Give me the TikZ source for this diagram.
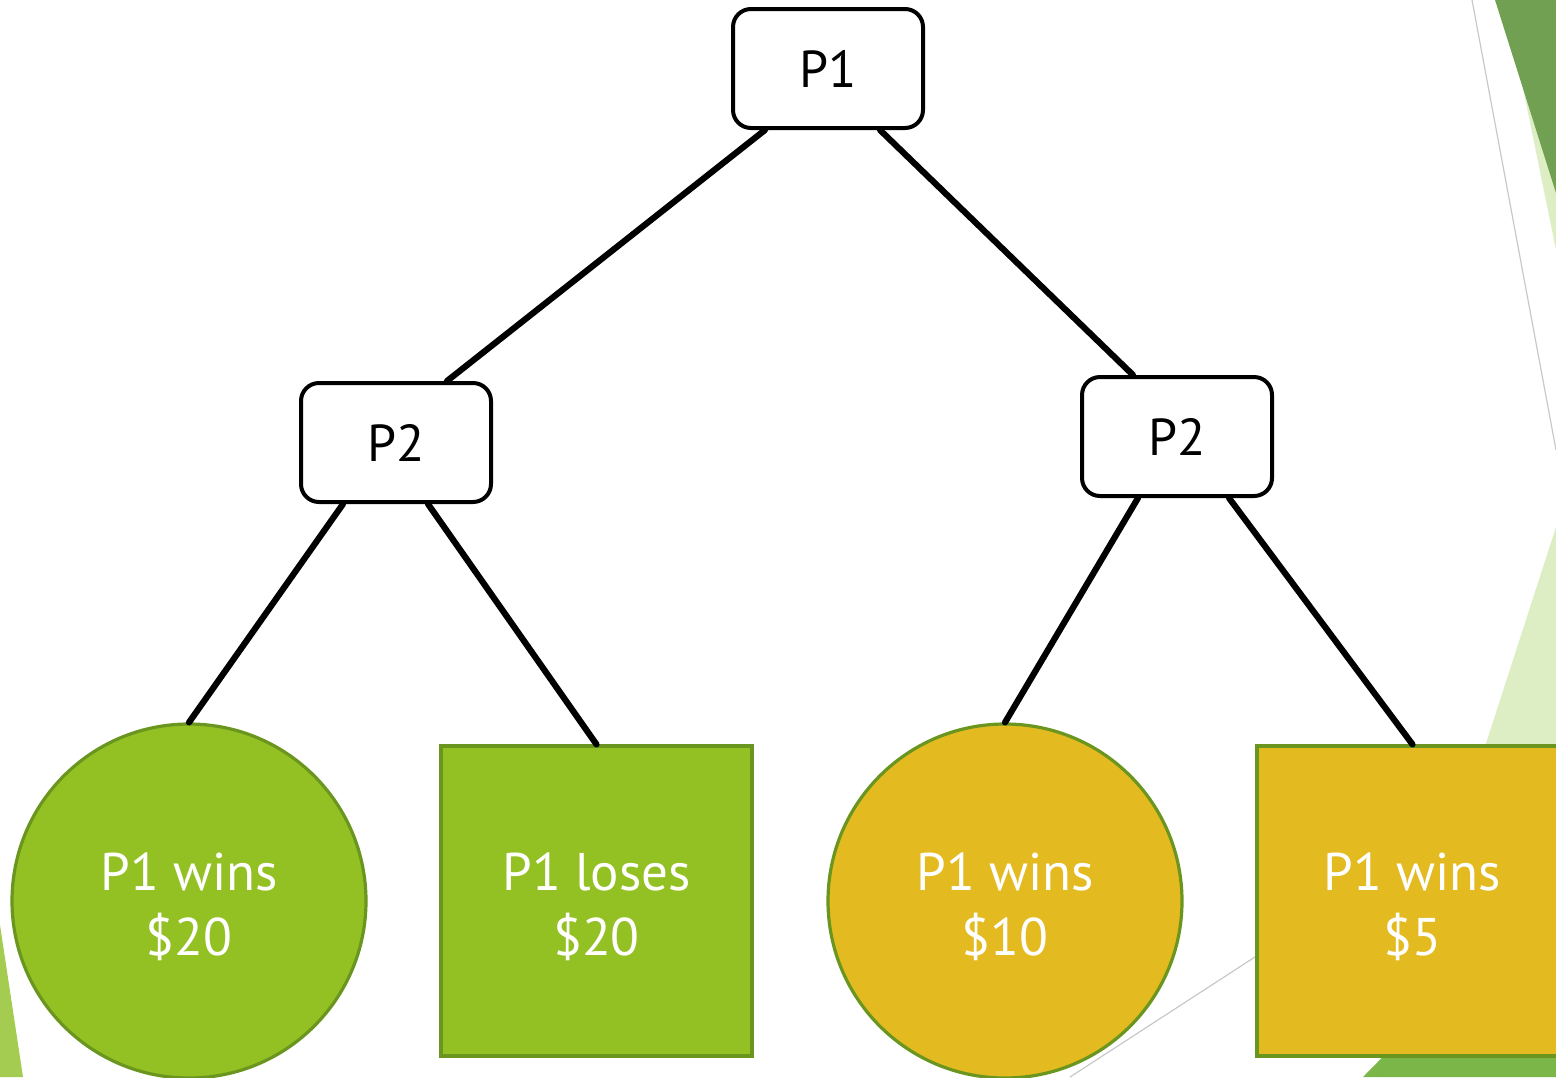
\documentclass[tikz,border=0pt]{standalone}
\usepackage{fontspec}
\setmainfont{PT Sans}
\usetikzlibrary{calc}
\definecolor{leafgreen}{HTML}{93C123}
\definecolor{edgegreen}{HTML}{6A961F}
\definecolor{gold}{HTML}{E3BA1F}
\definecolor{darkfacet}{HTML}{71A052}
\definecolor{lightfacet}{HTML}{DDEDC4}
\definecolor{midfacet}{HTML}{7AB648}
\definecolor{limefacet}{HTML}{A4CC50}
\definecolor{thingray}{HTML}{C8C8C8}
\newcommand{\lowerstrut}{\rule{0pt}{25pt}}
\tikzset{
  decision/.style={draw=black, line width=2pt, rounded corners=9pt, fill=white,
    minimum width=95pt, minimum height=59.5pt, font=\fontsize{26}{32}\selectfont},
  outcome/.style={draw=edgegreen, line width=1.6pt, text=white, align=center,
    font=\fontsize{26.5}{32.5}\selectfont},
  roundout/.style={outcome, circle, minimum size=177pt, inner sep=0pt},
  squareout/.style={outcome, rectangle, minimum width=155.5pt, minimum height=155pt, inner sep=0pt},
  branch/.style={line width=3.1pt, line cap=round, black},
  facetline/.style={draw=thingray, line width=0.6pt}
}
\begin{document}
\begin{tikzpicture}[x=0.5pt,y=-0.5pt]
\useasboundingbox (0,0) rectangle (1556,1077);
\clip (0,0) rectangle (1556,1077);
% background facets
\fill[lightfacet] (1505,0) -- (1556,0) -- (1556,250) -- cycle;
\fill[darkfacet] (1495,0) -- (1556,0) -- (1556,193) -- cycle;
\draw[facetline] (1472,0) -- (1556,450);
\fill[lightfacet] (1556,527) -- (1556,1077) -- (1378,1077) -- cycle;
\fill[midfacet] (1363,1077) -- (1556,880) -- (1556,1077) -- cycle;
\fill[limefacet] (0,925) -- (23,1077) -- (0,1077) -- cycle;
\draw[facetline] (1070,1077) -- (1258,955);
% decision nodes
\node[decision] (p1) at (828,68.5) {P1};
\node[decision] (p2l) at (396,442.5) {P2};
\node[decision] (p2r) at (1177,436.5) {P2};
% outcomes
\node[roundout, fill=leafgreen] (o1) at (189,901) {\lowerstrut P1 wins\\\$20};
\node[squareout, fill=leafgreen] (o2) at (596.5,901) {\lowerstrut P1 loses\\\$20};
\node[roundout, fill=gold] (o3) at (1005,901) {\lowerstrut P1 wins\\\$10};
\node[squareout, fill=gold] (o4) at (1412.5,901) {\lowerstrut P1 wins\\\$5};
% branches
\draw[branch] ($(p1.south)+(-63,0)$) -- ($(p2l.north)+(51,0)$);
\draw[branch] ($(p1.south)+(52,0)$) -- ($(p2r.north)+(-44,0)$);
\draw[branch] ($(p2l.south)+(-53,0)$) -- (o1.north);
\draw[branch] ($(p2l.south)+(32,0)$) -- (o2.north);
\draw[branch] ($(p2r.south)+(-39,0)$) -- (o3.north);
\draw[branch] ($(p2r.south)+(52,0)$) -- (o4.north);
\end{tikzpicture}
\end{document}
